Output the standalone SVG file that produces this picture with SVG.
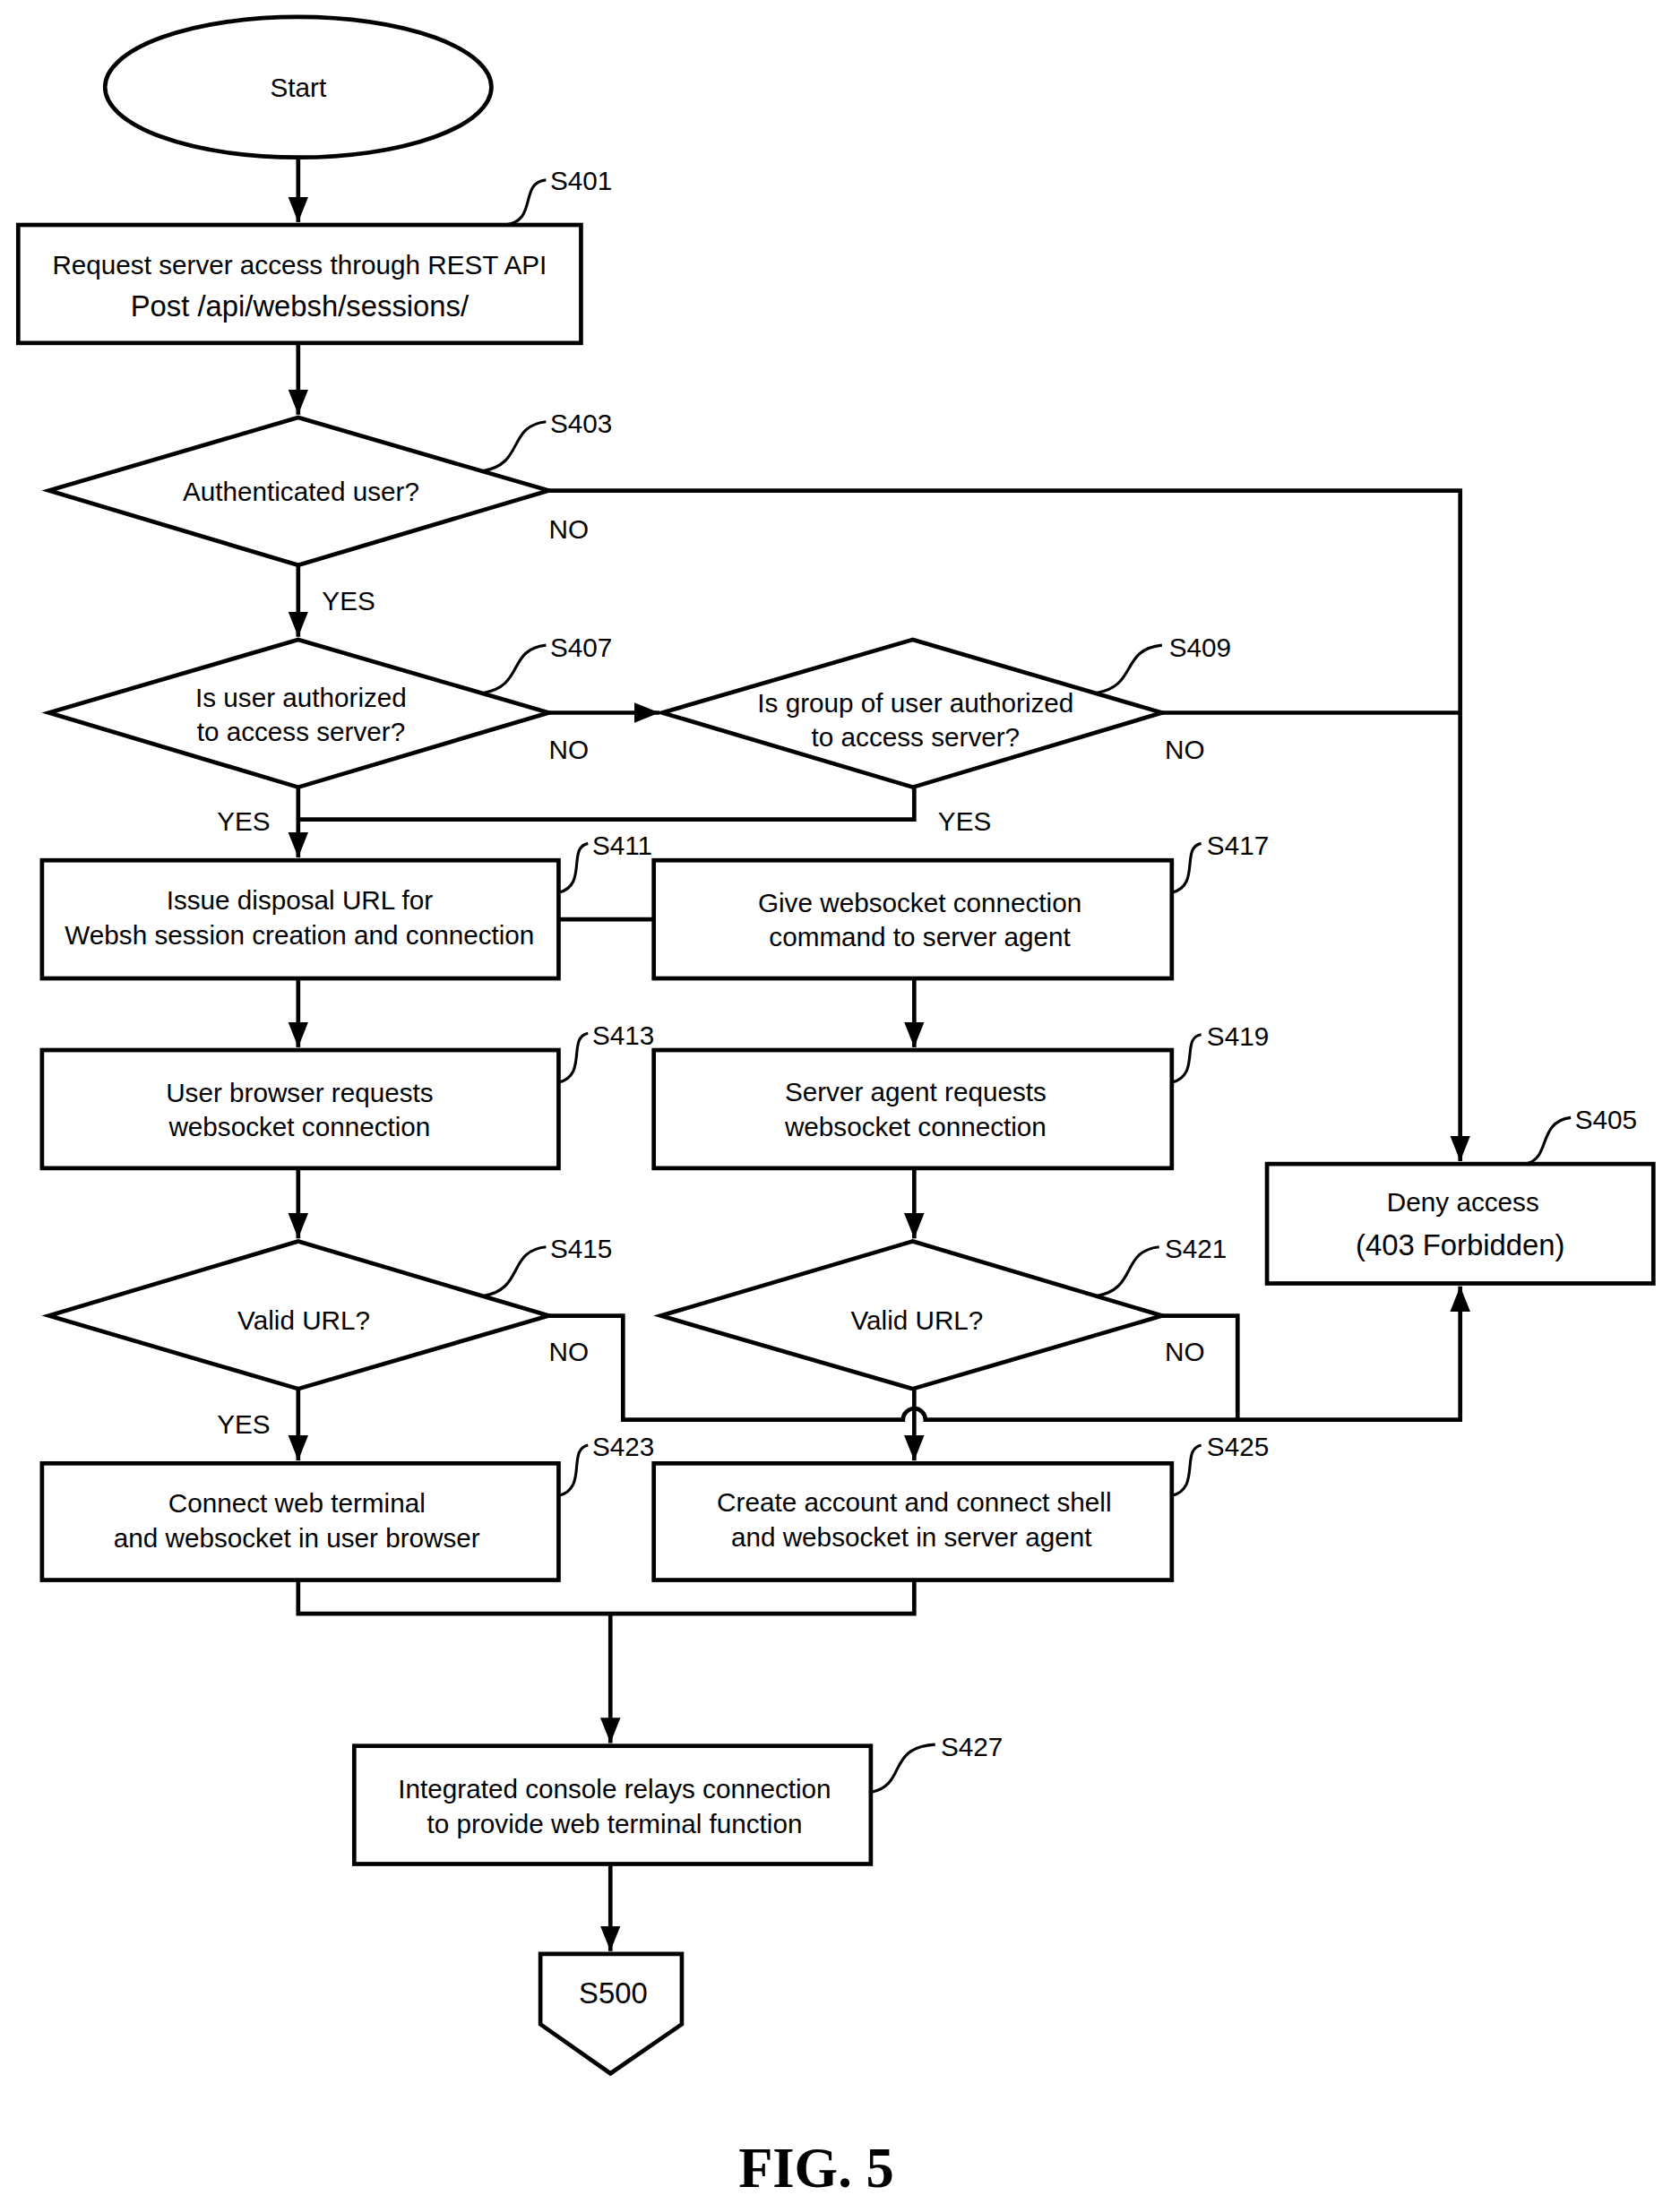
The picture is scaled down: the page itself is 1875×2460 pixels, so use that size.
<svg xmlns="http://www.w3.org/2000/svg" width="1875" height="2460" viewBox="0 0 1875 2460">
<defs>
<marker id="ah" viewBox="0 0 10 10" refX="10" refY="5" markerWidth="6" markerHeight="6" orient="auto"><path d="M0,1 L10,5 L0,9 z" fill="#000"/></marker>
<style>
.n{fill:#fff;stroke:#000;stroke-width:3}
.c{fill:none;stroke:#000;stroke-width:3}
.s{fill:none;stroke:#000;stroke-width:2}
text{font-family:"Liberation Sans",Arial,sans-serif;font-size:19px;fill:#000}
.m{text-anchor:middle}
.b{font-size:21px}
</style>
</defs>
<rect width="1875" height="2460" fill="#fff"/>
<g transform="scale(1.5625,1.569)">
<g id="connectors">
<path class="c" d="M213,112V158" marker-end="url(#ah)"/>
<path class="c" d="M213,244V295" marker-end="url(#ah)"/>
<path class="c" d="M392,349H1043V826" marker-end="url(#ah)"/>
<path class="c" d="M213,402V453" marker-end="url(#ah)"/>
<path class="c" d="M392,507H471" marker-end="url(#ah)"/>
<path class="c" d="M830,507H1043"/>
<path class="c" d="M213,560V610" marker-end="url(#ah)"/>
<path class="c" d="M653,560V583H213"/>
<path class="c" d="M399,654H467"/>
<path class="c" d="M213,696V745" marker-end="url(#ah)"/>
<path class="c" d="M653,696V745" marker-end="url(#ah)"/>
<path class="c" d="M213,831V881" marker-end="url(#ah)"/>
<path class="c" d="M653,831V881" marker-end="url(#ah)"/>
<path class="c" d="M392,936H445V1010H645A8,8 0 0 1 661,1010H1043V915" marker-end="url(#ah)"/>
<path class="c" d="M830,936H884V1010"/>
<path class="c" d="M213,988V1039" marker-end="url(#ah)"/>
<path class="c" d="M653,988V1039" marker-end="url(#ah)"/>
<path class="c" d="M213,1124V1148H653V1124M436,1148V1240" marker-end="url(#ah)"/>
<path class="c" d="M436,1326V1388" marker-end="url(#ah)"/>
<text x="392" y="383">NO</text>
<text x="230" y="434">YES</text>
<text x="392" y="540">NO</text>
<text x="832" y="540">NO</text>
<text x="155" y="591">YES</text>
<text x="670" y="591">YES</text>
<text x="392" y="968">NO</text>
<text x="832" y="968">NO</text>
<text x="155" y="1020">YES</text>
</g>
<g id="start"><ellipse class="n" cx="213" cy="62" rx="138" ry="50"/><text class="m" x="213" y="69">Start</text></g>
<g id="S401"><rect class="n" x="13" y="160" width="402" height="84"/><text class="m" x="214" y="195">Request server access through REST API</text><text class="m b" x="214" y="225">Post /api/websh/sessions/</text>
<path class="s" d="M360,160C385,158 370,130 390,128"/><text x="393" y="135">S401</text></g>
<g id="S403"><path class="n" d="M35,349L213,297L392,349L213,402z"/><text class="m" x="215" y="356">Authenticated user?</text>
<path class="s" d="M345,335C375,330 362,303 390,300"/><text x="393" y="308">S403</text></g>
<g id="S407"><path class="n" d="M35,507L213,455L392,507L213,560z"/><text class="m" x="215" y="503">Is user authorized</text><text class="m" x="215" y="527">to access server?</text>
<path class="s" d="M345,493C375,488 362,462 390,459"/><text x="393" y="467">S407</text></g>
<g id="S409"><path class="n" d="M473,507L652,455L830,507L652,560z"/><text class="m" x="654" y="507">Is group of user authorized</text><text class="m" x="654" y="531">to access server?</text>
<path class="s" d="M783,493C813,488 800,462 830,459"/><text x="835" y="467">S409</text></g>
<g id="S411"><rect class="n" x="30" y="612" width="369" height="84"/><text class="m" x="214" y="647">Issue disposal URL for</text><text class="m" x="214" y="672">Websh session creation and connection</text>
<path class="s" d="M399,635C420,630 405,603 420,600"/><text x="423" y="608">S411</text></g>
<g id="S417"><rect class="n" x="467" y="612" width="370" height="84"/><text class="m" x="657" y="649">Give websocket connection</text><text class="m" x="657" y="673">command to server agent</text>
<path class="s" d="M837,635C858,630 843,603 858,600"/><text x="862" y="608">S417</text></g>
<g id="S413"><rect class="n" x="30" y="747" width="369" height="84"/><text class="m" x="214" y="784">User browser requests</text><text class="m" x="214" y="808">websocket connection</text>
<path class="s" d="M399,770C420,765 405,738 420,735"/><text x="423" y="743">S413</text></g>
<g id="S419"><rect class="n" x="467" y="747" width="370" height="84"/><text class="m" x="654" y="783">Server agent requests</text><text class="m" x="654" y="808">websocket connection</text>
<path class="s" d="M837,770C858,765 843,738 858,736"/><text x="862" y="744">S419</text></g>
<g id="S405"><rect class="n" x="905" y="828" width="276" height="85"/><text class="m" x="1045" y="862">Deny access</text><text class="m b" x="1043" y="893">(403 Forbidden)</text>
<path class="s" d="M1090,828C1108,824 1098,798 1122,795"/><text x="1125" y="803">S405</text></g>
<g id="S415"><path class="n" d="M35,936L213,883L392,936L213,988z"/><text class="m" x="217" y="946">Valid URL?</text>
<path class="s" d="M345,922C375,917 362,890 390,887"/><text x="393" y="895">S415</text></g>
<g id="S421"><path class="n" d="M472,936L652,883L830,936L652,988z"/><text class="m" x="655" y="946">Valid URL?</text>
<path class="s" d="M783,922C813,917 800,890 828,887"/><text x="832" y="895">S421</text></g>
<g id="S423"><rect class="n" x="30" y="1041" width="369" height="83"/><text class="m" x="212" y="1076">Connect web terminal</text><text class="m" x="212" y="1101">and websocket in user browser</text>
<path class="s" d="M399,1064C420,1059 405,1031 420,1028"/><text x="423" y="1036">S423</text></g>
<g id="S425"><rect class="n" x="467" y="1041" width="370" height="83"/><text class="m" x="653" y="1075">Create account and connect shell</text><text class="m" x="651" y="1100">and websocket in server agent</text>
<path class="s" d="M837,1064C858,1059 843,1031 858,1028"/><text x="862" y="1036">S425</text></g>
<g id="S427"><rect class="n" x="253" y="1242" width="369" height="84"/><text class="m" x="439" y="1279">Integrated console relays connection</text><text class="m" x="439" y="1304">to provide web terminal function</text>
<path class="s" d="M622,1275C648,1270 633,1243 668,1241"/><text x="672" y="1249">S427</text></g>
<g id="S500"><path class="n" d="M386,1390H487V1440L436,1475L386,1440z"/><text class="m b" x="438" y="1425">S500</text></g>
<text class="m" x="583" y="1556" style="font-family:'Liberation Serif',serif;font-weight:bold;font-size:40px">FIG. 5</text>
</g>
</svg>
